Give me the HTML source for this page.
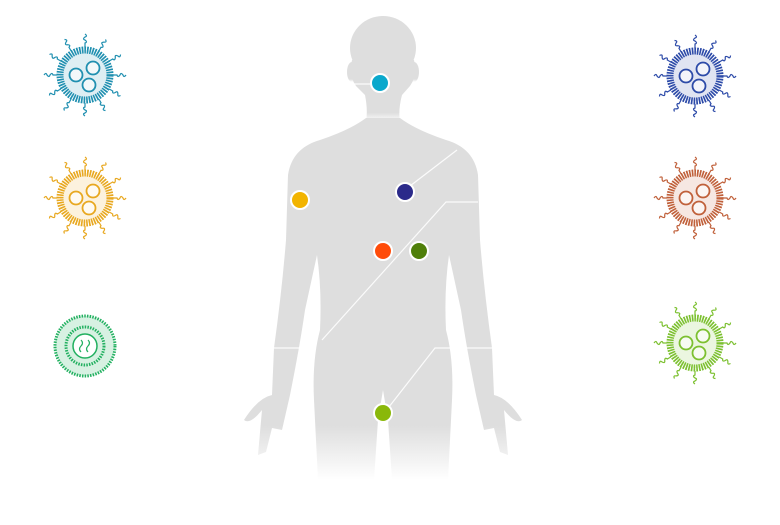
<!DOCTYPE html>
<html><head><style>body{margin:0;background:#fff}svg{display:block}</style></head><body>
<svg width="780" height="525" viewBox="0 0 780 525" xmlns="http://www.w3.org/2000/svg">
<defs>
<linearGradient id="fade" x1="0" y1="0" x2="0" y2="1">
<stop offset="0.85" stop-color="#dedede"/><stop offset="1" stop-color="#dedede" stop-opacity="0"/></linearGradient>
<path id="sq" d="M0 -28 L0 -32 q3 -1 0 -3 q-3 -1 0 -3 q3 -1 0 -3" fill="none" stroke="currentColor" stroke-width="1.2"/>
<g id="spikes">
<use href="#sq" transform="rotate(0)"/><use href="#sq" transform="rotate(30)"/><use href="#sq" transform="rotate(60)"/>
<use href="#sq" transform="rotate(90)"/><use href="#sq" transform="rotate(120)"/><use href="#sq" transform="rotate(150)"/>
<use href="#sq" transform="rotate(180)"/><use href="#sq" transform="rotate(210)"/><use href="#sq" transform="rotate(240)"/>
<use href="#sq" transform="rotate(270)"/><use href="#sq" transform="rotate(300)"/><use href="#sq" transform="rotate(330)"/>
</g>
<g id="virus">
<use href="#spikes"/>
<circle r="25" fill="currentColor" fill-opacity="0.15"/>
<circle r="25" fill="none" stroke="currentColor" stroke-width="7" stroke-dasharray="1.6 1"/>
<circle cx="-9" cy="0" r="6.5" fill="#fff" fill-opacity="0.6" stroke="currentColor" stroke-width="1.8"/>
<circle cx="8" cy="-7" r="6.5" fill="#fff" fill-opacity="0.6" stroke="currentColor" stroke-width="1.8"/>
<circle cx="4" cy="10" r="6.5" fill="#fff" fill-opacity="0.6" stroke="currentColor" stroke-width="1.8"/>
</g>
</defs>
<g fill="url(#fade)">
<ellipse cx="383" cy="48" rx="33" ry="32"/>
<ellipse cx="352" cy="72" rx="5" ry="10"/>
<ellipse cx="414" cy="72" rx="5" ry="10"/>
<path d="M352 60 Q348 75 356 86 L365 95 Q368 110 366 122 L400 122 Q398 110 402 95 L410 86 Q418 75 414 60 Z"/>
<path d="M366 118 Q350 130 320 140 Q292 148 288 175 L286 240 Q282 290 274 348 L272 395 Q258 398 244 420 Q250 425 262 410 L258 455 L266 452 L272 428 L282 430 L290 395 Q300 345 305 310 L317 255 Q322 290 320 330 Q312 360 314 400 L318 480 L374 480 L378 420 L383 390 L388 420 L392 480 L448 480 L452 400 Q454 360 446 330 Q444 290 449 255 L461 310 Q466 345 476 395 L484 430 L494 428 L500 452 L508 455 L504 410 Q516 425 522 420 Q508 398 494 395 L492 348 Q484 290 480 240 L478 175 Q474 148 446 140 Q416 130 400 118 Z"/>
</g>
<g stroke="#fff" stroke-width="1.2" fill="none" opacity="0.9">
<path d="M352 84 L372 84"/>
<path d="M410 186 L457 150"/>
<path d="M322 340 L446 202 L478 202"/>
<path d="M272 348 L305 348"/>
<path d="M385 412 L435 348 L493 348"/>
</g>
<g stroke="#fff" stroke-width="2">
<circle cx="380" cy="83" r="9" fill="#0aa8cc"/>
<circle cx="300" cy="200" r="9" fill="#f2b400"/>
<circle cx="405" cy="192" r="9" fill="#2b2a8a"/>
<circle cx="383" cy="251" r="9" fill="#ff4c0a"/>
<circle cx="419" cy="251" r="9" fill="#4f7f0a"/>
<circle cx="383" cy="413" r="9" fill="#8ab80a"/>
</g>
<use href="#virus" x="85" y="75" style="color:#1f8fb0"/>
<use href="#virus" x="85" y="198" style="color:#e8a820"/>
<use href="#virus" x="695" y="76" style="color:#2c4aa8"/>
<use href="#virus" x="695" y="198" style="color:#c0603a"/>
<use href="#virus" x="695" y="343" style="color:#7cc030"/>
<g transform="translate(85,346)" style="color:#22b060">
<circle r="30" fill="#22b060" fill-opacity="0.18" stroke="currentColor" stroke-width="3" stroke-dasharray="1.5 1.2"/>
<circle r="19" fill="none" stroke="currentColor" stroke-width="3" stroke-dasharray="1.5 1.2"/>
<circle r="12" fill="#fff" stroke="currentColor" stroke-width="1.5"/>
<path d="M-4 -6 q3 3 0 6 q-3 3 0 6 M3 -6 q3 3 0 6 q-3 3 0 6" stroke="currentColor" fill="none" stroke-width="1.2"/>
</g>
</svg>
</body></html>
